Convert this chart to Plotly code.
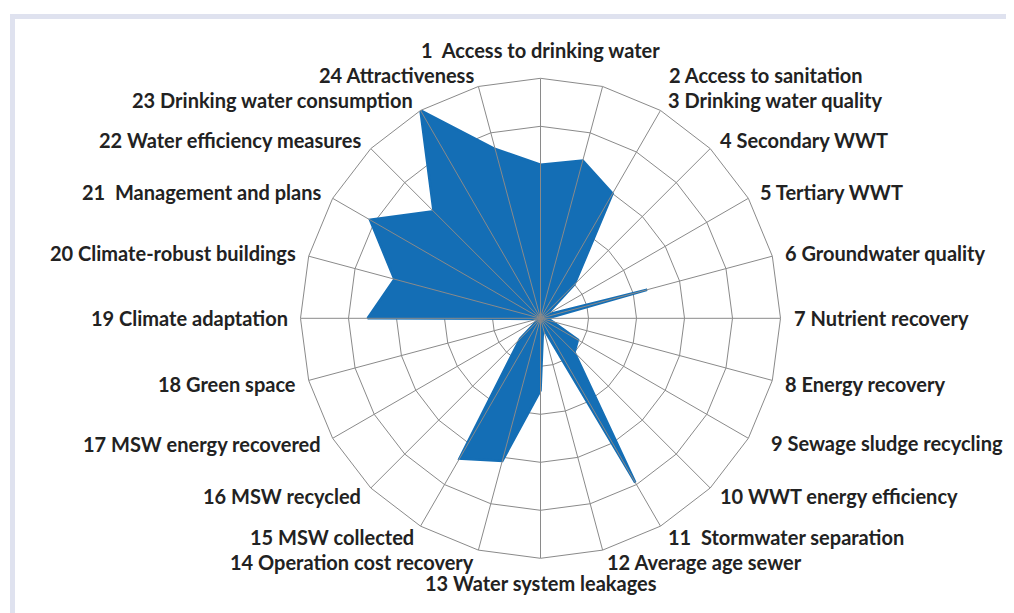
import math
import plotly.graph_objects as go

categories = [
    "1\u00a0 Access to drinking water",
    "2 Access to sanitation",
    "3 Drinking water quality",
    "4 Secondary WWT",
    "5 Tertiary WWT",
    "6 Groundwater quality",
    "7 Nutrient recovery",
    "8 Energy recovery",
    "9 Sewage sludge recycling",
    "10 WWT energy efficiency",
    "11\u00a0 Stormwater separation",
    "12 Average age sewer",
    "13 Water system leakages",
    "14 Operation cost recovery",
    "15 MSW collected",
    "16 MSW recycled",
    "17 MSW energy recovered",
    "18 Green space",
    "19 Climate adaptation",
    "20 Climate-robust buildings",
    "21\u00a0 Management and plans",
    "22 Water efficiency measures",
    "23 Drinking water consumption",
    "24 Attractiveness",
]
scores = [64, 68, 60, 20, 3, 46, 3, 5, 18, 20, 79, 4, 30, 61.5, 67.5, 12, 1, 1,
          72, 63, 82, 63, 100, 73]
radial_max = 100

BLUE = "#146EB5"
GRID = "#8A8A8A"
TEXT = "#222222"

W, H = 1006, 605          # page body has an 8px margin
cx, cy, R = 532.5, 310.3, 240
dom = dict(x=[(cx - R) / W, (cx + R) / W],
           y=[1 - (cy + R) / H, 1 - (cy - R) / H])

fig = go.Figure()

fig.add_trace(go.Scatterpolar(
    r=scores + [scores[0]],
    theta=categories + [categories[0]],
    mode="lines",
    fill="toself",
    fillcolor=BLUE,
    line=dict(color=BLUE, width=2.6),
    hoverinfo="skip",
    showlegend=False,
))

# spokes drawn over the filled area
spoke_r, spoke_t = [], []
for c in categories:
    spoke_r += [0, radial_max, None]
    spoke_t += [c, c, None]
fig.add_trace(go.Scatterpolar(
    r=spoke_r, theta=spoke_t, mode="lines",
    line=dict(color=GRID, width=1),
    connectgaps=False, hoverinfo="skip", showlegend=False,
))

# ---- category label placement (angle clockwise from top, radius in axis units)
n = len(categories)
label_theta = [i * 360 / n for i in range(n)]
label_r = [105.0] * n
label_r[0] = 111.8
label_r[12] = 110.3
label_theta[1], label_r[1] = 27.7, 114.5
label_theta[8], label_r[8] = 118.5, 108.8

annotations = []
for name, t, r in zip(categories, label_theta, label_r):
    px = cx + r / radial_max * R * math.sin(math.radians(t))
    py = cy - r / radial_max * R * math.cos(math.radians(t))
    if t in (0, 180):
        xa = "center"
    elif t < 180:
        xa = "left"
    else:
        xa = "right"
    annotations.append(dict(
        x=px / W, y=1 - py / H, xref="paper", yref="paper",
        text=name, showarrow=False, xanchor=xa, yanchor="middle",
        borderpad=0,
        font=dict(family="Lato", size=20, color=TEXT, weight="bold"),
    ))

fig.update_layout(
    width=W, height=H,
    margin=dict(l=0, r=0, t=0, b=0),
    paper_bgcolor="white",
    font=dict(family="Lato", size=20, color=TEXT),
    annotations=annotations,
    polar=dict(
        domain=dom,
        bgcolor="white",
        gridshape="linear",
        radialaxis=dict(range=[0, radial_max], dtick=20, showticklabels=False,
                        ticks="", showline=False, gridcolor=GRID, gridwidth=1),
        angularaxis=dict(direction="clockwise", rotation=90, showgrid=False,
                         showline=True, linecolor=GRID, linewidth=1, ticks="",
                         showticklabels=False),
    ),
    shapes=[
        dict(type="rect", xref="paper", yref="paper",
             x0=2 / W, x1=7 / W, y0=-0.1, y1=1 - 6 / H,
             line=dict(width=0), fillcolor="#DFE2EF", layer="below"),
        dict(type="rect", xref="paper", yref="paper",
             x0=2 / W, x1=1.1, y0=1 - 11 / H, y1=1 - 6 / H,
             line=dict(width=0), fillcolor="#DFE2EF", layer="below"),
    ],
)

fig.write_html("out.html")
